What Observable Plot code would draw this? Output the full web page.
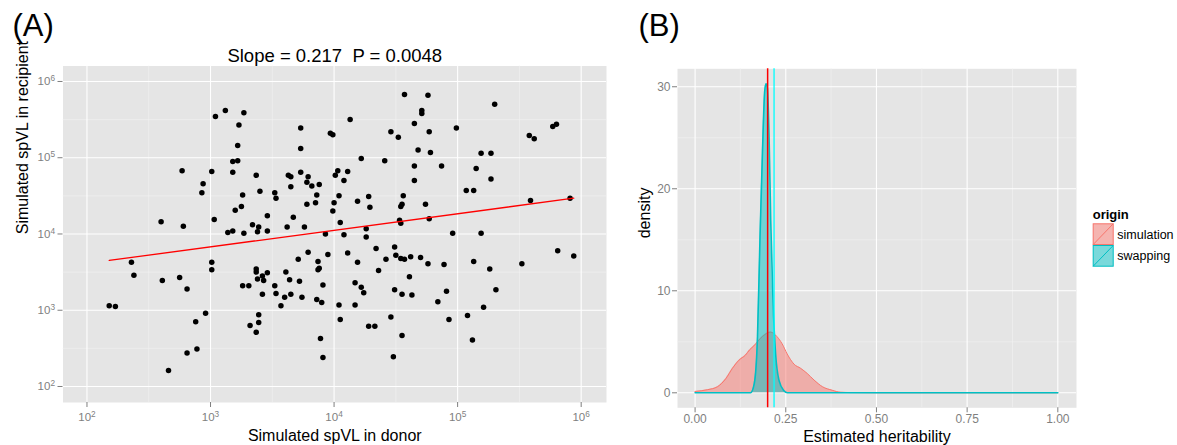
<!DOCTYPE html>
<html>
<head>
<meta charset="utf-8">
<script src="https://cdn.jsdelivr.net/npm/d3@7"></script>
<script src="https://cdn.jsdelivr.net/npm/@observablehq/plot@0.6"></script>
<style>
  html, body { margin: 0; padding: 0; background: #ffffff; }
  #wrap { position: relative; width: 1177px; height: 445px; overflow: hidden; font-family: "Liberation Sans", Arial, Helvetica, sans-serif; }
  #wrap svg { position: absolute; top: 0; overflow: visible; }
</style>
</head>
<body>
<div id="wrap"></div>
<script>
// ---------------- Panel A data (log10 of spVL) ----------------
const donorLog10 = [
  3.04,3.12,3.27,3.23,3.73,3.97,3.99,3.22,3.73,3.18,
  3.22,2.77,3.01,3.18,3.37,3.63,3.65,3.73,3.79,3.78,
  3.82,3.88,3.65,2.94,2.93,3.40,3.52,3.53,3.26,3.86,
  3.78,3.85,3.20,3.25,3.46,3.67,3.03,2.60,2.78,3.34,
  3.39,3.62,3.76,
  4.57,4.76,4.71,4.71,5.30,4.13,4.65,4.99,4.46,4.77,
  4.52,5.58,5.62,5.77,5.80,4.68,4.78,5.19,5.27,4.22,
  4.41,4.65,4.87,5.15,4.03,4.01,4.11,4.08,4.65,5.27,
  5.07,5.13,4.04,4.28,4.19,4.00,3.99,4.29,4.56,4.55,
  4.54,4.74,5.59,5.91,4.05,4.53,4.54,4.77,4.26,
  3.14,3.18,3.27,3.38,3.46,3.93,2.36,2.38,2.18,2.23,
  2.61,2.75,2.81,3.01,3.01,2.96,2.88,2.89,2.81,2.66,
  3.26,3.31,3.37,3.37,3.38,3.42,3.43,3.46,3.42,3.39,
  3.39,3.32,3.37,3.52,3.53,3.57,3.60,3.61,3.64,3.65,
  3.71,3.72,3.74,3.79,3.86,3.87,3.87,3.88,3.91,3.90,
  3.89,3.91,3.95,
  4.26,4.08,4.96,5.19,4.11,4.19,4.34,4.42,4.49,4.50,
  4.54,4.57,4.62,4.70,4.76,4.89,4.36,4.61,4.17,4.22,
  4.24,4.49,4.55,4.63,4.91,4.84,4.04,4.17,4.05,4.28,
  4.33,4.46,4.55,4.93,4.48,5.13,5.26,5.31,5.21,5.08,
  5.12,5.52,5.81,5.94
];
const recipientLog10 = [
  5.54,5.62,5.59,5.43,5.39,5.32,5.30,5.16,5.12,4.95,
  4.96,4.83,4.82,4.81,4.77,4.77,4.75,4.81,4.75,4.68,
  4.63,4.65,4.62,4.66,4.54,4.56,4.54,4.47,4.51,4.51,
  4.39,4.41,4.31,4.36,4.24,4.22,4.19,4.16,4.10,4.12,
  4.09,4.09,4.09,
  5.83,5.82,5.62,5.58,5.70,5.50,5.45,5.39,5.34,5.34,
  5.27,5.29,5.25,5.41,5.44,5.10,5.07,5.06,5.06,4.99,
  4.96,4.89,4.89,4.86,4.83,4.77,4.82,4.70,4.70,4.72,
  4.57,4.57,4.50,4.49,4.43,4.41,4.30,4.35,4.50,4.39,
  4.36,4.39,4.44,4.47,4.15,4.18,4.14,4.20,4.07,
  4.02,4.04,4.01,4.03,4.04,4.00,3.63,3.46,3.06,3.05,
  3.39,3.43,3.28,3.63,3.53,2.96,2.85,2.49,2.44,2.21,
  3.32,3.32,3.54,3.50,3.41,3.45,3.39,3.49,3.21,2.94,
  2.84,2.80,2.71,3.32,3.22,3.06,3.17,3.50,3.40,3.21,
  3.67,3.38,3.17,3.76,3.14,3.64,3.53,3.55,3.33,3.10,
  2.63,2.38,3.73,
  3.96,3.99,4.01,4.01,3.75,3.63,3.81,3.67,3.83,3.72,
  3.68,3.67,3.70,3.69,3.61,3.60,3.52,3.44,3.36,3.30,
  3.23,3.27,3.21,3.20,3.25,3.11,3.07,3.07,2.88,2.79,
  2.79,2.91,2.67,2.88,2.39,3.64,3.54,3.27,3.04,2.93,
  2.61,3.61,3.78,3.71
];
const regSlope = 0.217;      // on log10 scale
const regIntercept = 3.18;   // on log10 scale
const titleA = "Slope = 0.217\u00a0 P = 0.0048";
const xMajorA = [1e2, 1e3, 1e4, 1e5, 1e6];
const xMinorA = [10**2.5, 10**3.5, 10**4.5, 10**5.5];
const yMajorA = [1e2, 1e3, 1e4, 1e5, 1e6];
const yMinorA = [10**2.5, 10**3.5, 10**4.5, 10**5.5];

// ---------------- Panel B data ----------------
const simX = [0,0.034,0.062,0.085,0.103,0.121,0.139,0.150,0.162,0.185,0.208,0.226,0.240,0.254,0.273,0.291,0.309,0.328,0.351,0.378,0.401,0.429,0.5,0.75,1.0];
const simY = [0.13,0.3,0.6,1.4,2.4,3.2,3.7,4.2,4.6,5.5,5.95,5.5,4.8,3.8,2.8,2.4,1.9,1.25,0.6,0.25,0.05,0.02,0,0,0];
const swapX = [0,0.153,0.163,0.172,0.179,0.1856,0.192,0.1956,0.1994,0.204,0.2085,0.215,0.222,0.2314,0.245,0.2545,0.5,1.0];
const swapY = [0,0,0.88,5.45,15.25,23.4,29.6,30.3,29.8,25.06,16.9,8.7,3.8,1.2,0.2,0,0,0];
const trueHeritability = 0.2;
const swapEstimate = 0.2177;
const xTicksB = [0, 0.25, 0.5, 0.75, 1.0];
const xMinorB = [0.125, 0.375, 0.625, 0.875];
const yTicksB = [0, 10, 20, 30];
const yMinorB = [5, 15, 25];
const origins = ["simulation", "swapping"];
const originColors = ["#F8766D", "#00BFC4"];

// ---------------- build ----------------
const FONT = '"Liberation Sans", Arial, Helvetica, sans-serif';
const wrap = document.getElementById("wrap");
const powFmt = d => "10^" + Math.round(Math.log10(d));

const points = donorLog10.map((d, i) => ({donor: 10 ** d, recipient: 10 ** recipientLog10[i]}));
const dMin = d3.min(donorLog10), dMax = d3.max(donorLog10);
const regLine = [dMin, dMax].map(l => ({donor: 10 ** l, recipient: 10 ** (regIntercept + regSlope * l)}));

const styleBase = {background: "transparent", color: "#7f7f7f", fontFamily: FONT, fontSize: "11px", overflow: "visible"};

const plotA = Plot.plot({
  width: 620, height: 445,
  marginLeft: 62.5, marginRight: 14, marginTop: 65.5, marginBottom: 43,
  style: styleBase,
  x: {type: "log", domain: [10 ** 1.806, 10 ** 6.205]},
  y: {type: "log", domain: [10 ** 1.79, 10 ** 6.203]},
  marks: [
    Plot.frame({fill: "#e5e5e5", stroke: "none"}),
    Plot.ruleX(xMinorA, {stroke: "#f2f2f2", strokeWidth: 0.6}),
    Plot.ruleY(yMinorA, {stroke: "#f2f2f2", strokeWidth: 0.6}),
    Plot.ruleX(xMajorA, {stroke: "#ffffff", strokeWidth: 1.1}),
    Plot.ruleY(yMajorA, {stroke: "#ffffff", strokeWidth: 1.1}),
    Plot.axisX({ticks: xMajorA, tickFormat: powFmt, tickSize: 5, tickPadding: 5, fontSize: 11.5, label: null}),
    Plot.axisY({ticks: yMajorA, tickFormat: powFmt, tickSize: 5, tickPadding: 3, fontSize: 11.5, label: null}),
    Plot.dot(points, {x: "donor", y: "recipient", r: 2.75, fill: "#000000", stroke: "none"}),
    Plot.line(regLine, {x: "donor", y: "recipient", stroke: "#ff0000", strokeWidth: 1.3}),
    Plot.text([titleA], {text: d => d, frameAnchor: "top", lineAnchor: "bottom", dy: -4, fontSize: 18.5, fill: "#000000"}),
    Plot.text(["(A)"], {text: d => d, frameAnchor: "top-left", textAnchor: "start", lineAnchor: "bottom", dx: -50.5, dy: -30, fontSize: 31, fill: "#000000"}),
    Plot.text(["Simulated spVL in donor"], {text: d => d, frameAnchor: "bottom", lineAnchor: "bottom", dy: 38.7, fontSize: 16, fill: "#000000"}),
    Plot.text(["Simulated spVL in recipient"], {text: d => d, frameAnchor: "left", rotate: -90, lineAnchor: "bottom", dx: -35.5, fontSize: 16, fill: "#000000"})
  ]
});
// turn "10^k" tick labels into 10 with a superscript exponent
d3.select(plotA).selectAll("text").each(function () {
  const t = this.textContent;
  const m = /^10\^(-?\d+)$/.exec(t);
  if (!m) return;
  const sel = d3.select(this);
  sel.text("10");
  sel.append("tspan").attr("dy", "-0.5em").attr("font-size", "0.72em").text(m[1]);
});
plotA.style.left = "0px";
wrap.appendChild(plotA);

const simData = simX.map((x, i) => ({x, y: simY[i]}));
const swapData = swapX.map((x, i) => ({x, y: swapY[i]}));

const plotB = Plot.plot({
  width: 470, height: 445,
  marginLeft: 57, marginRight: 14, marginTop: 68.3, marginBottom: 37.7,
  style: styleBase,
  x: {domain: [-0.0485, 1.0515]},
  y: {domain: [-1.47, 31.76]},
  marks: [
    Plot.frame({fill: "#e5e5e5", stroke: "none"}),
    Plot.ruleX(xMinorB, {stroke: "#f2f2f2", strokeWidth: 0.6}),
    Plot.ruleY(yMinorB, {stroke: "#f2f2f2", strokeWidth: 0.6}),
    Plot.ruleX(xTicksB, {stroke: "#ffffff", strokeWidth: 1.1}),
    Plot.ruleY(yTicksB, {stroke: "#ffffff", strokeWidth: 1.1}),
    Plot.axisX({ticks: xTicksB, tickFormat: d3.format(".2f"), tickSize: 5, tickPadding: 2, fontSize: 12, label: null}),
    Plot.axisY({ticks: yTicksB, tickFormat: d3.format("d"), tickSize: 5, tickPadding: 2, fontSize: 12, label: null}),
    Plot.areaY(simData, {x: "x", y: "y", fill: originColors[0], fillOpacity: 0.5, curve: "monotone-x"}),
    Plot.lineY(simData, {x: "x", y: "y", stroke: originColors[0], strokeWidth: 1, curve: "monotone-x"}),
    Plot.areaY(swapData, {x: "x", y: "y", fill: originColors[1], fillOpacity: 0.5, curve: "monotone-x"}),
    Plot.lineY(swapData, {x: "x", y: "y", stroke: originColors[1], strokeWidth: 1.6, curve: "monotone-x"}),
    Plot.ruleX([trueHeritability], {stroke: "#ff0000", strokeWidth: 1.5}),
    Plot.ruleX([swapEstimate], {stroke: "#00ffff", strokeWidth: 1.3}),
    Plot.text(["(B)"], {text: d => d, frameAnchor: "top-left", textAnchor: "start", lineAnchor: "bottom", dx: -39, dy: -32.5, fontSize: 31, fill: "#000000"}),
    Plot.text(["Estimated heritability"], {text: d => d, frameAnchor: "bottom", lineAnchor: "bottom", dy: 34.5, fontSize: 16, fill: "#000000"}),
    Plot.text(["density"], {text: d => d, frameAnchor: "left", rotate: -90, lineAnchor: "bottom", dx: -27.4, fontSize: 16, fill: "#000000"})
  ]
});
plotB.style.left = "620px";
wrap.appendChild(plotB);

// ---------------- legend ----------------
const leg = d3.create("svg").attr("width", 92).attr("height", 80)
  .style("left", "1085px").style("top", "200px").style("font-family", FONT);
leg.append("text").attr("x", 7.7).attr("y", 19).attr("font-size", 13).attr("font-weight", "bold").attr("fill", "#000").text("origin");
origins.forEach((o, i) => {
  const y0 = 23.3 + i * 21.7, x0 = 7.7, w = 21, h = 21.7;
  leg.append("rect").attr("x", x0).attr("y", y0).attr("width", w).attr("height", h).attr("fill", "#f2f2f2");
  leg.append("rect").attr("x", x0 + 0.5).attr("y", y0 + 0.5).attr("width", w - 1).attr("height", h - 1)
    .attr("fill", originColors[i]).attr("fill-opacity", 0.5).attr("stroke", originColors[i]).attr("stroke-width", 1);
  leg.append("line").attr("x1", x0 + 0.5).attr("y1", y0 + h - 0.5).attr("x2", x0 + w - 0.5).attr("y2", y0 + 0.5)
    .attr("stroke", originColors[i]).attr("stroke-width", 1);
  leg.append("text").attr("x", 32.3).attr("y", y0 + h / 2).attr("dy", "0.35em").attr("font-size", 12.5).attr("fill", "#000").text(o);
});
wrap.appendChild(leg.node());
</script>
</body>
</html>
